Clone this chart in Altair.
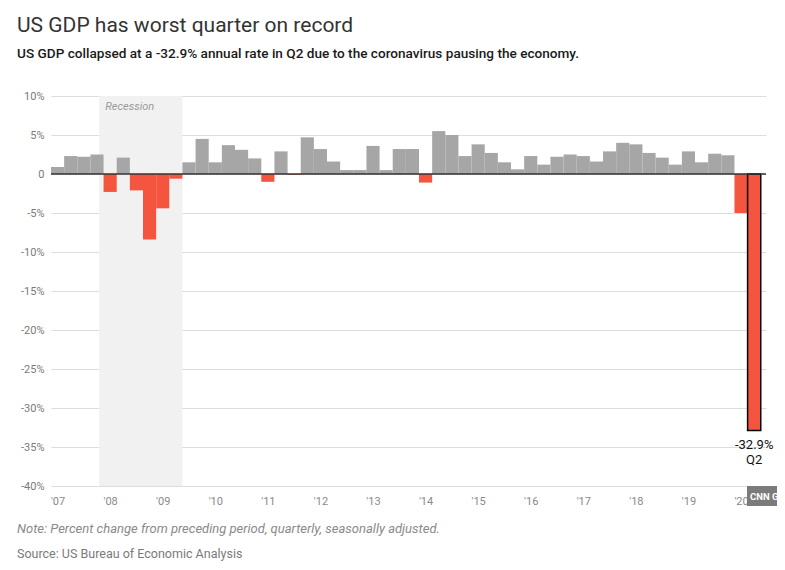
import altair as alt
import pandas as pd

# ---- data ----
years = list(range(2007, 2021))
quarters = [f"{y}Q{q}" for y in years for q in (1, 2, 3, 4)][:54]  # 2007Q1 .. 2020Q2
growth = [
    0.9, 2.3, 2.2, 2.5,      # 2007
    -2.3, 2.1, -2.1, -8.4,   # 2008
    -4.4, -0.6, 1.5, 4.5,    # 2009
    1.5, 3.7, 3.1, 2.0,      # 2010
    -1.0, 2.9, -0.1, 4.7,    # 2011
    3.2, 1.6, 0.5, 0.5,      # 2012
    3.6, 0.5, 3.2, 3.2,      # 2013
    -1.1, 5.5, 5.0, 2.3,     # 2014
    3.8, 2.7, 1.5, 0.6,      # 2015
    2.3, 1.2, 2.2, 2.5,      # 2016
    2.3, 1.6, 2.9, 4.0,      # 2017
    3.8, 2.7, 2.1, 1.2,      # 2018
    2.9, 1.5, 2.6, 2.4,      # 2019
    -5.0, -32.9,             # 2020
]
recession_start = [2007.917]
recession_end = [2009.5]
recession_label = ["Recession"]
y_ticks = [-40, -35, -30, -25, -20, -15, -10, -5, 0, 5, 10]
x_tick_years = years

title = "US GDP has worst quarter on record"
subtitle = "US GDP collapsed at a -32.9% annual rate in Q2 due to the coronavirus pausing the economy."
note = "Note: Percent change from preceding period, quarterly, seasonally adjusted."
source = "Source: US Bureau of Economic Analysis"
ann_lines = ["-32.9%", "Q2"]

GRAY = "#a6a6a6"
RED = "#f4553f"
FONT = "Roboto"

df = pd.DataFrame({"quarter": quarters, "growth": growth})
df["x"] = [int(q[:4]) + (int(q[-1]) - 1) / 4 for q in quarters]
df["x2"] = df["x"] + 0.25
df["sign"] = ["neg" if g < 0 else "pos" for g in growth]

W, H = 715, 390
xscale = alt.Scale(domain=[2007, 2020.6], nice=False, zero=False)
yscale = alt.Scale(domain=[-40, 10], nice=False, zero=False)

xaxis = alt.Axis(
    values=[y + 0.125 for y in x_tick_years],
    labelExpr="\"'\" + slice(toString(floor(datum.value)), 2)",
    grid=False, domain=False, ticks=False, labelPadding=9,
    labelFontSize=11, labelColor="#8a8a8a", labelFont=FONT, title=None,
)
yaxis = alt.Axis(
    values=y_ticks,
    labelExpr="datum.value == 0 ? '0' : datum.value + '%'",
    grid=True, gridColor="#dddddd", gridWidth=1, domain=False, ticks=False,
    labelPadding=7, labelFontSize=11, labelColor="#7a7a7a", labelFont=FONT, title=None,
)

rec_df = pd.DataFrame({"start": recession_start, "end": recession_end, "label": recession_label})

recession = alt.Chart(rec_df).mark_rect(color="#f1f1f1").encode(
    x=alt.X("start:Q", scale=xscale, axis=xaxis),
    x2="end:Q",
    y=alt.value(0),
    y2=alt.value(H),
)

rec_text = alt.Chart(rec_df).mark_text(
    align="left", baseline="middle", fontStyle="italic", fontSize=11,
    color="#9a9a9a", font=FONT, dx=6,
).encode(x=alt.X("start:Q", scale=xscale, axis=xaxis), y=alt.value(11), text="label:N")

bars = alt.Chart(df).mark_bar().encode(
    x=alt.X("x:Q", scale=xscale, axis=xaxis),
    x2="x2:Q",
    y=alt.Y("growth:Q", scale=yscale, axis=yaxis),
    y2=alt.datum(0),
    color=alt.Color("sign:N", scale=alt.Scale(domain=["pos", "neg"], range=[GRAY, RED]), legend=None),
)

last_bar = alt.Chart(df).transform_filter(alt.datum.quarter == "2020Q2").mark_bar(
    fill=RED, stroke="black", strokeWidth=1.5,
).encode(
    x=alt.X("x:Q", scale=xscale, axis=xaxis), x2="x2:Q",
    y=alt.Y("growth:Q", scale=yscale, axis=yaxis), y2=alt.datum(0),
)

zero = alt.Chart(pd.DataFrame({"z": [0]})).mark_rule(color="#333333", strokeWidth=1.5).encode(
    y=alt.Y("z:Q", scale=yscale, axis=yaxis)
)

ann = alt.Chart(df).transform_filter(alt.datum.quarter == "2020Q2").transform_calculate(
    mid="datum.x + 0.125", label=f"'{ann_lines[0]}\\n{ann_lines[1]}'"
).mark_text(
    align="center", baseline="top", fontSize=13, color="#111111", font=FONT,
    lineBreak="\n", lineHeight=15, dy=8,
).encode(
    x=alt.X("mid:Q", scale=xscale, axis=xaxis),
    y=alt.Y("growth:Q", scale=yscale, axis=yaxis),
    text="label:N",
)

def txt(s, x, y, **kw):
    return alt.Chart(pd.DataFrame({"t": [s]})).mark_text(align="left", baseline="alphabetic", **kw).encode(
        x=alt.value(x), y=alt.value(y), text="t:N"
    )

t_title = txt(title, -34, -64, fontSize=21, font=FONT, color="#333333")
t_sub = txt(subtitle, -34, -38, fontSize=13.6, font=FONT, fontWeight=500, color="#1a1a1a")
t_note = txt(note, -34, 437, fontSize=13, font=FONT, fontStyle="italic", color="#8a8a8a")
t_src = txt(source, -34, 462, fontSize=12.5, font=FONT, color="#7a7a7a")

cnn_box = alt.Chart(pd.DataFrame({"t": ["CNN G"]})).mark_rect(color="#7b7b7b").encode(
    x=alt.value(696), x2=alt.value(730), y=alt.value(390), y2=alt.value(410)
)
cnn_txt = txt("CNN G", 699, 404, fontSize=9.5, font=FONT, fontWeight="bold", color="white")

chart = alt.layer(
    recession, rec_text, bars, last_bar, zero, ann,
    t_title, t_sub, t_note, t_src, cnn_box, cnn_txt,
).properties(
    width=W, height=H,
    background="white",
    autosize=alt.AutoSizeParams(type="none"),
    padding={"left": 43, "top": 88, "right": 11, "bottom": 80},
).configure_view(stroke="transparent", strokeWidth=0)

chart.save("out.html", embed_options={"renderer": "svg", "actions": False})
